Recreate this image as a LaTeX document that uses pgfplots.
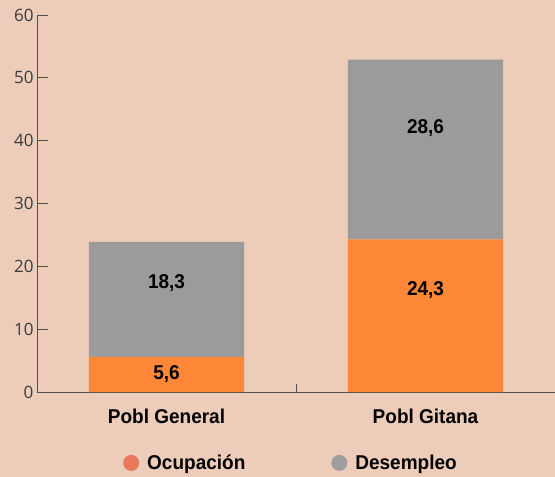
\documentclass[border=0pt]{standalone}
\usepackage{pgfplots}
\pgfplotsset{compat=1.18}
\usepackage{fontspec}
\setmainfont{Open Sans}
\newfontfamily\labfont[FakeStretch=0.95]{Liberation Sans}

\definecolor{bgpeach}{RGB}{237,204,185}
\definecolor{barorange}{RGB}{255,136,56}
\definecolor{bargray}{RGB}{155,155,155}
\definecolor{legorange}{RGB}{232,121,90}
\definecolor{leggray}{RGB}{158,158,158}
\definecolor{axisgray}{RGB}{80,80,80}
\definecolor{ticktext}{RGB}{60,60,60}

\begin{document}
\begin{tikzpicture}
\fill[bgpeach] (-37pt,-85pt) rectangle (518pt,392pt);
\begin{axis}[
  at={(0pt,0pt)}, anchor=south west,
  scale only axis,
  width=518pt, height=377pt,
  ybar stacked,
  bar width=0.6,
  xmin=-0.5, xmax=1.5,
  ymin=0, ymax=60,
  axis x line=bottom, axis y line=left,
  axis line style={axisgray, line width=0.8pt, -},
  tick align=inside,
  xtick={0,1},
  xticklabels={Pobl General, Pobl Gitana},
  major x tick style={draw=none},
  minor xtick={0.5},
  minor tick length=8pt,
  minor x tick style={axisgray, line width=0.6pt},
  ytick={0,10,20,30,40,50,60},
  major tick length=11pt,
  y tick style={axisgray, line width=0.8pt},
  yticklabel style={font=\fontsize{17}{17}\selectfont, text=ticktext},
  /pgf/number format/assume math mode=true,
  xticklabel style={font=\labfont\bfseries\fontsize{20}{20}\selectfont, yshift=-13pt},
  legend style={draw=none, fill=none, at={(axis description cs:0.166,-0.188)}, anchor=west,
    legend columns=2, inner sep=0pt,
    font=\labfont\bfseries\fontsize{20}{20}\selectfont,
    /tikz/every even column/.append style={column sep=84pt}},
  legend cell align=left,
]
\addplot[fill=barorange, draw=none, forget plot] coordinates {(0,5.6) (1,24.3)};
\addplot[fill=bargray, draw=none, forget plot] coordinates {(0,18.3) (1,28.6)};
\addlegendimage{legend image code/.code={\fill[legorange, draw=none] (8pt,0pt) circle (8pt); \path[draw=none] (0pt,0pt) (22pt,0pt);}}
\addlegendentry{Ocupación}
\addlegendimage{legend image code/.code={\fill[leggray, draw=none] (8pt,0pt) circle (8pt); \path[draw=none] (0pt,0pt) (22pt,0pt);}}
\addlegendentry{Desempleo}
\coordinate (a) at (axis cs:0,2.9);
\coordinate (b) at (axis cs:0,17.4);
\coordinate (c) at (axis cs:1,16.2);
\coordinate (d) at (axis cs:1,42.0);
\end{axis}
\begin{scope}[every node/.style={font=\labfont\bfseries\fontsize{20}{20}\selectfont, text=black}]
\node at (a) {5,6};
\node at (b) {18,3};
\node at (c) {24,3};
\node at (d) {28,6};
\end{scope}
\pgfresetboundingbox
\path (-37pt,-85pt) rectangle (518pt,392pt);
\end{tikzpicture}
\end{document}
